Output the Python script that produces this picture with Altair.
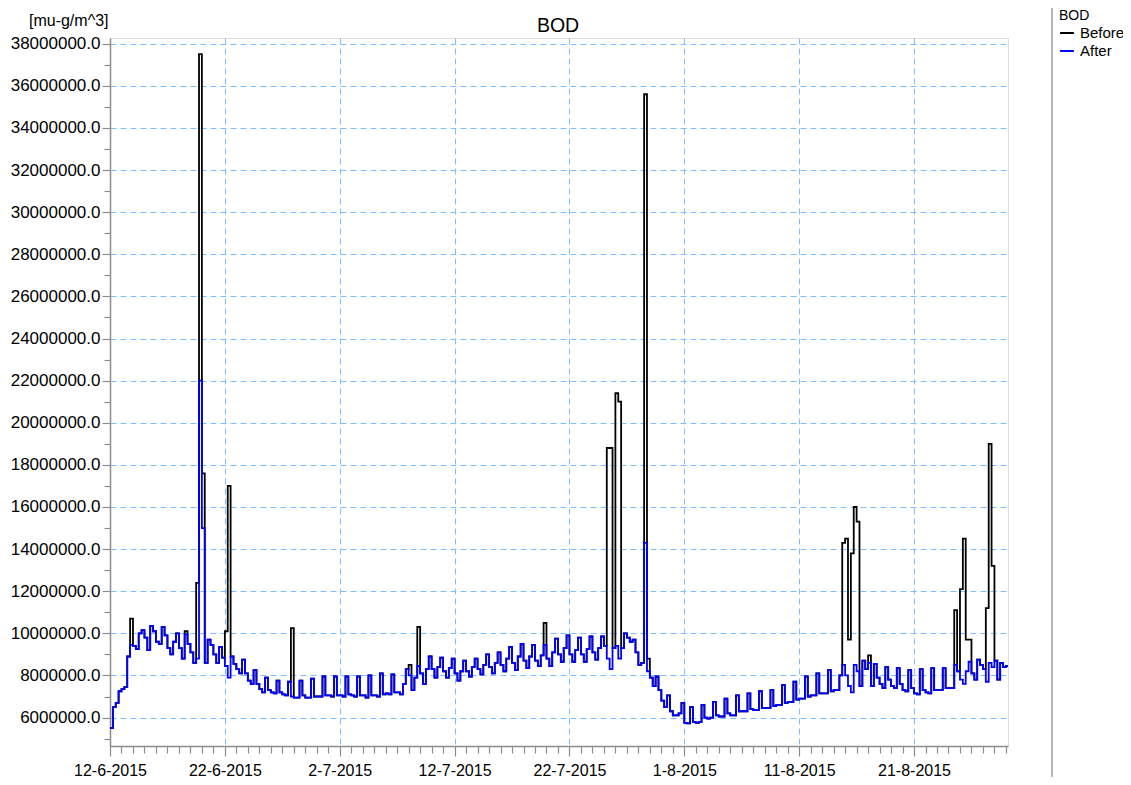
import altair as alt
import pandas as pd

FONT = "Liberation Sans"

# "After" series, in millions of mu-g/m^3, one value per 6 hours (00h, 06h, 12h, 18h) from 12-6-2015
AFTER_M = [
    5.5, 6.5, 6.7, 7.25,      # 12-6
    7.35, 7.45, 8.9, 9.45,    # 13-6
    9.4, 9.25, 10.0, 10.15,   # 14-6
    9.8, 9.2, 10.35, 10.1,    # 15-6
    9.6, 9.5, 10.3, 9.9,      # 16-6
    9.3, 9.0, 9.6, 10.0,      # 17-6
    9.3, 8.8, 9.95, 9.5,      # 18-6
    9.1, 8.6, 8.8, 22.0,      # 19-6
    15.0, 8.6, 9.7, 9.45,     # 20-6
    9.0, 8.6, 9.35, 8.85,     # 21-6
    8.45, 7.9, 8.9, 8.55,     # 22-6
    8.3, 8.1, 8.75, 8.1,      # 23-6
    7.75, 7.6, 8.25, 7.6,     # 24-6
    7.35, 7.2, 7.9, 7.3,      # 25-6
    7.2, 7.15, 7.75, 7.2,     # 26-6
    7.1, 7.05, 7.7, 7.0,      # 27-6
    6.95, 6.95, 7.75, 7.05,   # 28-6
    6.95, 6.95, 7.85, 7.0,    # 29-6
    7.0, 7.0, 7.95, 7.05,     # 30-6
    7.05, 7.0, 7.95, 7.05,    # 1-7
    7.05, 7.0, 7.95, 7.1,     # 2-7
    7.05, 7.0, 7.95, 7.05,    # 3-7
    7.05, 6.95, 8.0, 7.05,    # 4-7
    7.05, 7.0, 8.1, 7.1,      # 5-7
    7.15, 7.1, 8.05, 7.2,     # 6-7
    7.2, 7.1, 7.6, 8.3,       # 7-7
    8.0, 7.3, 7.9, 8.45,      # 8-7
    8.1, 7.6, 8.3, 8.9,       # 9-7
    8.3, 7.9, 8.4, 8.85,      # 10-7
    8.2, 7.9, 8.35, 8.8,      # 11-7
    8.1, 7.75, 8.2, 8.7,      # 12-7
    8.2, 7.95, 8.4, 8.8,      # 13-7
    8.3, 8.05, 8.5, 9.0,      # 14-7
    8.4, 8.1, 8.6, 9.1,       # 15-7
    8.5, 8.2, 8.8, 9.35,      # 16-7
    8.6, 8.25, 8.9, 9.5,      # 17-7
    8.7, 8.35, 8.9, 9.45,     # 18-7
    8.7, 8.45, 8.95, 9.45,    # 19-7
    8.8, 8.45, 9.1, 9.75,     # 20-7
    9.0, 8.65, 9.3, 9.9,      # 21-7
    9.0, 8.65, 9.2, 9.8,      # 22-7
    9.0, 8.65, 9.25, 9.85,    # 23-7
    9.1, 8.75, 9.3, 9.85,     # 24-7
    9.4, 8.8, 8.3, 9.3,       # 25-7
    9.4, 8.8, 9.3, 10.0,      # 26-7
    9.8, 9.6, 9.7, 9.1,       # 27-7
    8.5, 8.6, 14.3, 8.2,      # 28-7
    7.9, 7.5, 7.95, 7.3,      # 29-7
    6.8, 6.5, 7.05, 6.3,      # 30-7
    6.1, 6.1, 6.2, 6.7,       # 31-7
    5.75, 5.72, 6.5, 5.8,     # 1-8
    5.75, 5.8, 6.6, 6.0,      # 2-8
    5.95, 6.0, 6.75, 6.1,     # 3-8
    6.05, 6.05, 6.9, 6.2,     # 4-8
    6.1, 6.1, 7.05, 6.3,      # 5-8
    6.3, 6.3, 7.15, 6.4,      # 6-8
    6.35, 6.35, 7.25, 6.45,   # 7-8
    6.45, 6.45, 7.3, 6.55,    # 8-8
    6.6, 6.6, 7.55, 6.7,      # 9-8
    6.75, 6.75, 7.7, 6.85,    # 10-8
    6.9, 6.9, 7.95, 7.0,      # 11-8
    7.05, 7.05, 8.1, 7.15,    # 12-8
    7.15, 7.15, 8.25, 7.25,   # 13-8
    7.3, 7.3, 8.0, 8.5,       # 14-8
    8.0, 7.5, 7.2, 8.5,       # 15-8
    8.2, 7.5, 8.7, 8.3,       # 16-8
    8.6, 7.5, 8.55, 7.9,      # 17-8
    7.6, 7.4, 8.4, 7.8,       # 18-8
    7.5, 7.4, 8.35, 7.6,      # 19-8
    7.3, 7.25, 8.25, 7.4,     # 20-8
    7.15, 7.1, 8.3, 7.3,      # 21-8
    7.2, 7.15, 8.35, 7.3,     # 22-8
    7.3, 7.3, 8.35, 7.4,      # 23-8
    7.4, 7.4, 8.5, 8.2,       # 24-8
    7.8, 7.6, 8.2, 8.65,      # 25-8
    8.1, 7.8, 8.75, 8.5,      # 26-8
    8.3, 7.7, 8.6, 8.4,       # 27-8
    8.7, 7.8, 8.6, 8.4,       # 28-8
    8.45, 8.45,               # 29-8
]

# "Before" differs from "After" only at these 6-hour steps (millions)
BEFORE_TIMES = [
    "2015-06-13 18:00", "2015-06-18 12:00", "2015-06-19 12:00", "2015-06-19 18:00",
    "2015-06-20 00:00", "2015-06-22 00:00", "2015-06-22 06:00", "2015-06-27 18:00",
    "2015-07-08 00:00", "2015-07-08 18:00", "2015-07-19 18:00", "2015-07-25 06:00",
    "2015-07-25 12:00", "2015-07-26 00:00", "2015-07-26 06:00", "2015-07-28 12:00",
    "2015-07-28 18:00", "2015-08-14 18:00", "2015-08-15 00:00", "2015-08-15 06:00",
    "2015-08-15 12:00", "2015-08-15 18:00", "2015-08-16 00:00", "2015-08-17 00:00",
    "2015-08-24 12:00", "2015-08-25 00:00", "2015-08-25 06:00", "2015-08-25 12:00",
    "2015-08-25 18:00", "2015-08-27 06:00", "2015-08-27 12:00", "2015-08-27 18:00",
]
BEFORE_M = [
    10.7, 10.1, 12.4, 37.5,
    17.6, 10.1, 17.0, 10.25,
    8.5, 10.3, 10.5, 18.8,
    18.8, 21.4, 21.0, 35.6,
    8.8, 14.3, 14.5, 9.7,
    13.8, 16.0, 15.3, 8.95,
    11.1, 12.1, 14.5, 9.7,
    9.7, 11.2, 19.0, 13.2,
]

TITLE = "BOD"
UNIT = "[mu-g/m^3]"
X_LABELS = ["12-6-2015", "22-6-2015", "2-7-2015", "12-7-2015",
            "22-7-2015", "1-8-2015", "11-8-2015", "21-8-2015"]
SERIES = ["Before", "After"]
COLORS = ["#000000", "#0000ff"]

# ---- table (long form) ----
times = pd.date_range("2015-06-12 00:00", periods=len(AFTER_M), freq="6h")
override = dict(zip(pd.to_datetime(BEFORE_TIMES), BEFORE_M))
before_vals = [override.get(t, v) * 1e6 for t, v in zip(times, AFTER_M)]
after_vals = [v * 1e6 for v in AFTER_M]
df = pd.concat([
    pd.DataFrame({"time": times, "value": before_vals, "series": "Before"}),
    pd.DataFrame({"time": times, "value": after_vals, "series": "After"}),
], ignore_index=True)

day_ticks = [alt.DateTime(year=d.year, month=d.month, date=d.day)
             for d in pd.date_range("2015-06-12", "2015-08-29", freq="D")]
y_ticks = list(range(5_000_000, 38_000_001, 1_000_000))

lab_js = "[" + ",".join("'%s'" % s for s in X_LABELS) + "]"
x_major = "indexof(%s, timeFormat(datum.value, '%%-d-%%-m-%%Y')) >= 0" % lab_js
y_major = "datum.value % 2000000 == 0"

GRID = "#7fbfff"
AXC = "#8c8c8c"

x_scale = alt.Scale(domain=[alt.DateTime(year=2015, month=6, date=12),
                            alt.DateTime(year=2015, month=8, date=29, hours=4, minutes=20)])
y_scale = alt.Scale(domain=[4.65e6, 38.27e6], nice=False, zero=False)

x_axis = alt.Axis(
    values=day_ticks, format="%-d-%-m-%Y", title=None,
    labelExpr="indexof(%s, datum.label) >= 0 ? datum.label : ''" % lab_js,
    labelOverlap=False, labelFlush=False, labelBound=False,
    labelFont=FONT, labelFontSize=16, labelColor="black", labelPadding=6,
    grid=True, gridColor=GRID, gridDash=[6, 4], gridWidth=1,
    gridOpacity={"condition": {"test": x_major, "value": 1}, "value": 0},
    tickSize={"condition": {"test": x_major, "value": 10}, "value": 7},
    tickColor=AXC, tickWidth=1.2, domainColor=AXC, domainWidth=1.5,
)
y_axis = alt.Axis(
    values=y_ticks, title=UNIT,
    labelExpr="datum.value % 2000000 == 0 ? format(datum.value, '.1f') : ''",
    labelOverlap=False, labelFont=FONT, labelFontSize=17, labelColor="black",
    labelPadding=2,
    grid=True, gridColor=GRID, gridDash=[6, 4], gridWidth=1,
    gridOpacity={"condition": {"test": y_major, "value": 1}, "value": 0},
    tickSize={"condition": {"test": y_major, "value": 8}, "value": 6},
    tickColor=AXC, tickWidth=1.2, domainColor=AXC, domainWidth=1.5,
    titleAngle=0, titleX=-2, titleY=-18, titleAlign="right", titleBaseline="middle",
    titleFont=FONT, titleFontSize=16, titleFontWeight="normal", titleColor="black",
)

legend = alt.Legend(
    title="BOD", orient="none", legendX=949, legendY=-29,
    titleFont=FONT, titleFontSize=14, titleFontWeight="normal", titleColor="black",
    titlePadding=2, labelFont=FONT, labelFontSize=15, labelColor="black",
    symbolType="stroke", symbolStrokeWidth=2, symbolSize=190, labelOffset=5,
    rowPadding=2,
)
color = alt.Color("series:N", scale=alt.Scale(domain=SERIES, range=COLORS), legend=legend)

base = alt.Chart(df)


def series_layer(name):
    return base.transform_filter(alt.datum.series == name).mark_line(
        interpolate="step-after", strokeWidth=1.8, clip=True
    ).encode(
        x=alt.X("time:T", scale=x_scale, axis=x_axis),
        y=alt.Y("value:Q", scale=y_scale, axis=y_axis),
        color=color,
    )


one = pd.DataFrame({"text": [TITLE]})
title_mark = alt.Chart(one).mark_text(
    font=FONT, fontSize=19.5, color="black", align="center", baseline="alphabetic"
).encode(x=alt.value(448), y=alt.value(-6), text="text:N")

sep = alt.Chart(one).mark_rule(color="#a0a0a0", strokeWidth=1.5).encode(
    x=alt.value(942), y=alt.value(-38), y2=alt.value(745)
)

chart = alt.layer(series_layer("Before"), series_layer("After"), title_mark, sep).properties(
    width=898, height=708,
    autosize=alt.AutoSizeParams(type="none"),
    padding={"left": 102, "top": 30, "right": 115, "bottom": 31},
).configure_view(stroke="#a0a0a0", strokeWidth=1.5).configure(background="white")

chart.save("out.html", embed_options={"renderer": "svg", "actions": False})
